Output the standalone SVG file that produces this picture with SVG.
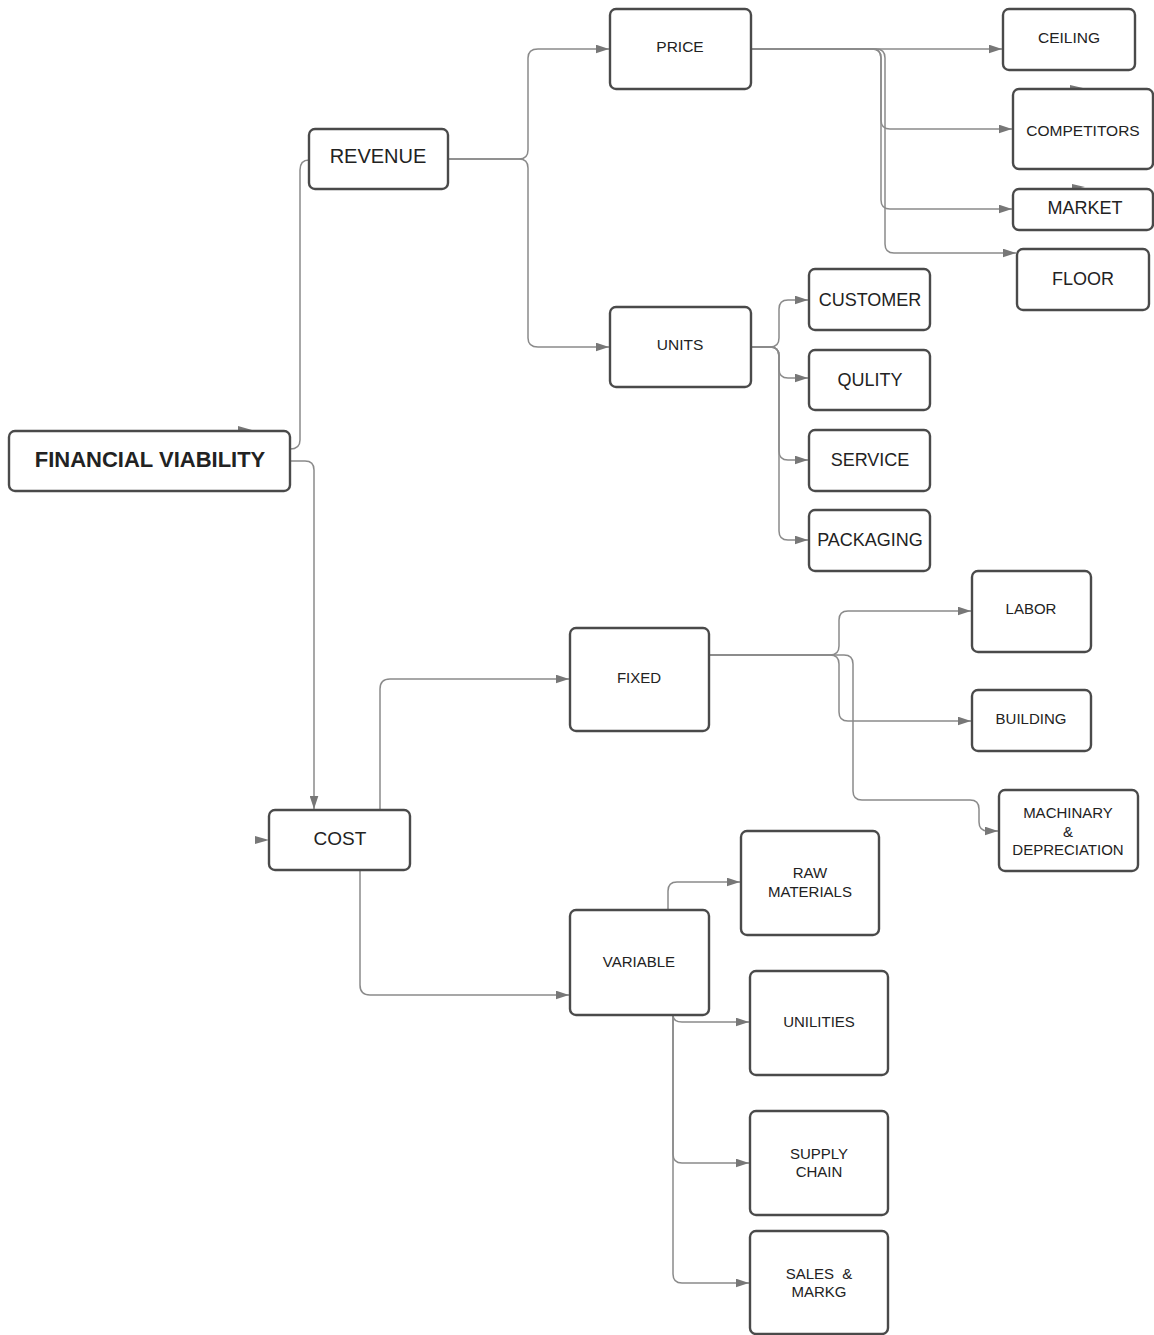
<svg xmlns="http://www.w3.org/2000/svg" width="1154" height="1335" viewBox="0 0 1154 1335">
<style>
.n{fill:#fff;stroke:#4a4a4a;stroke-width:2.4}
.t{font-family:"Liberation Sans",Arial,sans-serif;fill:#222;text-anchor:middle;dominant-baseline:central}
.c{fill:none;stroke:#8a8a8a;stroke-width:1.5}
.s{fill:#777}
</style>
<defs>
<marker id="a" viewBox="0 0 12 8" refX="12" refY="4" markerWidth="13" markerHeight="9" markerUnits="userSpaceOnUse" orient="auto">
<path d="M0,0L12,4L0,8Z" fill="#777"/>
</marker>
</defs>
<g id="connectors">
<path class="c" d="M290,449 Q300,449 300,440 V170 Q300,160 309,160"/>
<path class="c" marker-end="url(#a)" d="M290,461 H305 Q314,461 314,470 V809"/>
<path class="c" marker-end="url(#a)" d="M380,810 V689 Q380,679 390,679 H569"/>
<path class="c" marker-end="url(#a)" d="M360,870 V985 Q360,995 370,995 H569"/>
<path class="c" marker-end="url(#a)" d="M448,159 H519 Q528,159 528,150 V58 Q528,49 538,49 H609"/>
<path class="c" marker-end="url(#a)" d="M448,159 H519 Q528,159 528,168 V338 Q528,347 538,347 H609"/>
<path class="c" marker-end="url(#a)" d="M751,49 H1002"/>
<path class="c" marker-end="url(#a)" d="M751,49 H872 Q881,49 881,58 V120 Q881,129 890,129 H1012"/>
<path class="c" marker-end="url(#a)" d="M751,49 H872 Q881,49 881,58 V200 Q881,209 890,209 H1012"/>
<path class="c" marker-end="url(#a)" d="M751,49 H876 Q885,49 885,58 V244 Q885,253 894,253 H1016"/>
<path class="c" marker-end="url(#a)" d="M751,347 H770 Q779,347 779,338 V309 Q779,300 788,300 H808"/>
<path class="c" marker-end="url(#a)" d="M751,347 H770 Q779,347 779,356 V369 Q779,378 788,378 H808"/>
<path class="c" marker-end="url(#a)" d="M751,347 H770 Q779,347 779,356 V451 Q779,460 788,460 H808"/>
<path class="c" marker-end="url(#a)" d="M751,347 H770 Q779,347 779,356 V531 Q779,540 788,540 H808"/>
<path class="c" marker-end="url(#a)" d="M709,655 H830 Q839,655 839,646 V620 Q839,611 848,611 H971"/>
<path class="c" marker-end="url(#a)" d="M709,655 H830 Q839,655 839,664 V712 Q839,721 848,721 H971"/>
<path class="c" marker-end="url(#a)" d="M709,655 H844 Q853,655 853,664 V791 Q853,800 862,800 H970 Q979,800 979,809 V822 Q979,831 988,831 H998"/>
<path class="c" marker-end="url(#a)" d="M668,910 V891 Q668,882 677,882 H740"/>
<path class="c" marker-end="url(#a)" d="M673,1015 Q673,1022 682,1022 H749"/>
<path class="c" marker-end="url(#a)" d="M673,1015 V1154 Q673,1163 682,1163 H749"/>
<path class="c" marker-end="url(#a)" d="M673,1015 V1274 Q673,1283 682,1283 H749"/>
<path class="s" d="M238,426L252,430L238,434Z"/>
<path class="s" d="M255,836L269,840L255,844Z"/>
<path class="s" d="M1070,85L1083,88L1070,91Z"/>
<path class="s" d="M1072,184L1085,187L1072,190Z"/>
</g>
<g id="financial-viability"><rect class="n" x="9" y="431" width="281" height="60" rx="6"/><text class="t" x="150" y="459" font-size="22" font-weight="bold">FINANCIAL VIABILITY</text></g>
<g id="revenue"><rect class="n" x="309" y="129" width="139" height="60" rx="6"/><text class="t" x="378" y="156" font-size="20">REVENUE</text></g>
<g id="price"><rect class="n" x="610" y="9" width="141" height="80" rx="6"/><text class="t" x="680" y="46" font-size="15.5">PRICE</text></g>
<g id="units"><rect class="n" x="610" y="307" width="141" height="80" rx="6"/><text class="t" x="680" y="344" font-size="15.5">UNITS</text></g>
<g id="ceiling"><rect class="n" x="1003" y="9" width="132" height="61" rx="6"/><text class="t" x="1069" y="37" font-size="15.5">CEILING</text></g>
<g id="competitors"><rect class="n" x="1013" y="89" width="140" height="80" rx="6"/><text class="t" x="1083" y="130" font-size="15.5">COMPETITORS</text></g>
<g id="market"><rect class="n" x="1013" y="189" width="140" height="41" rx="6"/><text class="t" x="1085" y="208" font-size="18">MARKET</text></g>
<g id="floor"><rect class="n" x="1017" y="249" width="132" height="61" rx="6"/><text class="t" x="1083" y="279" font-size="18">FLOOR</text></g>
<g id="customer"><rect class="n" x="809" y="269" width="121" height="61" rx="6"/><text class="t" x="870" y="300" font-size="18">CUSTOMER</text></g>
<g id="qulity"><rect class="n" x="809" y="350" width="121" height="60" rx="6"/><text class="t" x="870" y="380" font-size="18">QULITY</text></g>
<g id="service"><rect class="n" x="809" y="430" width="121" height="61" rx="6"/><text class="t" x="870" y="460" font-size="18">SERVICE</text></g>
<g id="packaging"><rect class="n" x="809" y="510" width="121" height="61" rx="6"/><text class="t" x="870" y="540" font-size="18">PACKAGING</text></g>
<g id="cost"><rect class="n" x="269" y="810" width="141" height="60" rx="6"/><text class="t" x="340" y="838" font-size="19">COST</text></g>
<g id="fixed"><rect class="n" x="570" y="628" width="139" height="103" rx="6"/><text class="t" x="639" y="677" font-size="15">FIXED</text></g>
<g id="labor"><rect class="n" x="972" y="571" width="119" height="81" rx="6"/><text class="t" x="1031" y="608" font-size="15">LABOR</text></g>
<g id="building"><rect class="n" x="972" y="690" width="119" height="61" rx="6"/><text class="t" x="1031" y="718" font-size="15">BUILDING</text></g>
<g id="machinary"><rect class="n" x="999" y="790" width="139" height="81" rx="6"/><text class="t" x="1068" y="812" font-size="15">MACHINARY</text><text class="t" x="1068" y="831" font-size="15">&amp;</text><text class="t" x="1068" y="849" font-size="15">DEPRECIATION</text></g>
<g id="variable"><rect class="n" x="570" y="910" width="139" height="105" rx="6"/><text class="t" x="639" y="961" font-size="15">VARIABLE</text></g>
<g id="raw-materials"><rect class="n" x="741" y="831" width="138" height="104" rx="6"/><text class="t" x="810" y="872" font-size="15">RAW</text><text class="t" x="810" y="891" font-size="15">MATERIALS</text></g>
<g id="unilities"><rect class="n" x="750" y="971" width="138" height="104" rx="6"/><text class="t" x="819" y="1021" font-size="15">UNILITIES</text></g>
<g id="supply-chain"><rect class="n" x="750" y="1111" width="138" height="104" rx="6"/><text class="t" x="819" y="1153" font-size="15">SUPPLY</text><text class="t" x="819" y="1171" font-size="15">CHAIN</text></g>
<g id="sales-markg"><rect class="n" x="750" y="1231" width="138" height="103" rx="6"/><text class="t" x="819" y="1273" font-size="15" xml:space="preserve">SALES  &amp;</text><text class="t" x="819" y="1291" font-size="15">MARKG</text></g>
</svg>
